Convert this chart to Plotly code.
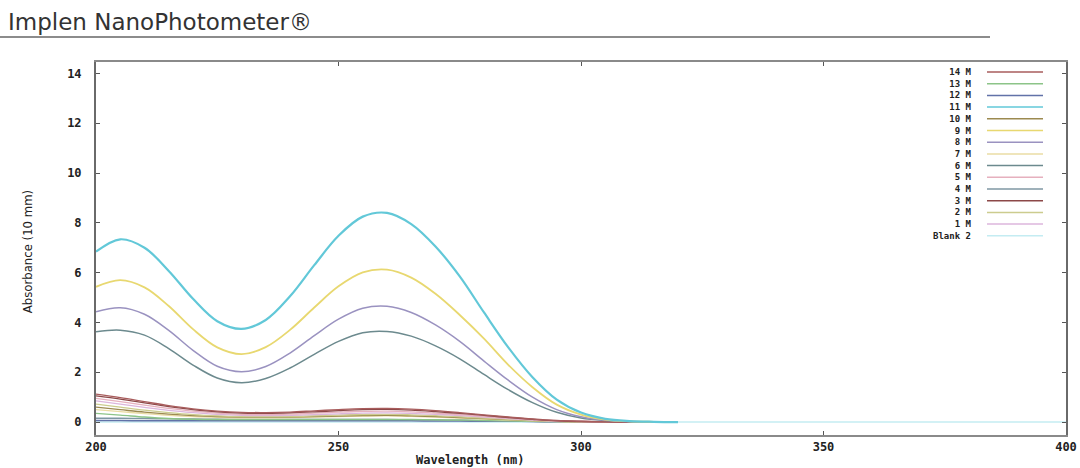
import plotly.graph_objects as go

# ---------------- data ----------------
wavelength = [200, 205, 210, 215, 220, 225, 230, 235, 240, 245, 250, 255, 260,
              265, 270, 275, 280, 285, 290, 295, 300, 305, 310, 315, 320]
wavelength_blank = [200, 250, 300, 350, 400]

s14 = [1.12, 0.98, 0.82, 0.66, 0.53, 0.44, 0.39, 0.38, 0.40, 0.45, 0.50, 0.54, 0.55,
       0.52, 0.46, 0.38, 0.29, 0.20, 0.12, 0.06, 0.03, 0.01, 0.0, 0.0, 0.0]
s13 = [0.35, 0.28, 0.20, 0.14, 0.11, 0.10, 0.10, 0.10, 0.10, 0.10, 0.10, 0.10, 0.10,
       0.10, 0.09, 0.08, 0.07, 0.05, 0.03, 0.02, 0.01, 0.0, 0.0, 0.0, 0.0]
s12 = [0.06, 0.06, 0.05, 0.05, 0.05, 0.05, 0.05, 0.05, 0.05, 0.05, 0.05, 0.05, 0.05,
       0.05, 0.04, 0.04, 0.03, 0.03, 0.02, 0.01, 0.01, 0.0, 0.0, 0.0, 0.0]
s11 = [6.84, 7.34, 7.00, 6.07, 4.95, 4.05, 3.74, 4.10, 5.05, 6.30, 7.48, 8.25, 8.40,
       7.95, 7.05, 5.85, 4.40, 3.00, 1.80, 0.90, 0.38, 0.13, 0.04, 0.01, 0.0]
s10 = [0.60, 0.50, 0.40, 0.32, 0.26, 0.22, 0.20, 0.19, 0.20, 0.22, 0.24, 0.26, 0.27,
       0.25, 0.22, 0.18, 0.14, 0.10, 0.06, 0.03, 0.01, 0.0, 0.0, 0.0, 0.0]
s9 = [5.43, 5.70, 5.41, 4.66, 3.73, 3.00, 2.73, 3.01, 3.70, 4.60, 5.45, 6.01, 6.12,
      5.80, 5.15, 4.30, 3.35, 2.30, 1.40, 0.70, 0.30, 0.10, 0.03, 0.01, 0.0]
s8 = [4.43, 4.59, 4.33, 3.68, 2.88, 2.24, 2.02, 2.23, 2.77, 3.47, 4.13, 4.57, 4.65,
      4.40, 3.90, 3.24, 2.45, 1.68, 1.00, 0.50, 0.21, 0.07, 0.02, 0.01, 0.0]
s7 = [0.50, 0.42, 0.34, 0.27, 0.22, 0.19, 0.17, 0.17, 0.18, 0.20, 0.22, 0.24, 0.25,
      0.23, 0.20, 0.16, 0.12, 0.08, 0.05, 0.02, 0.01, 0.0, 0.0, 0.0, 0.0]
s6 = [3.63, 3.69, 3.49, 2.95, 2.29, 1.77, 1.58, 1.75, 2.17, 2.72, 3.24, 3.59, 3.64,
      3.45, 3.06, 2.54, 1.91, 1.30, 0.78, 0.39, 0.16, 0.06, 0.02, 0.01, 0.0]
s5 = [0.95, 0.82, 0.68, 0.55, 0.44, 0.36, 0.31, 0.30, 0.32, 0.36, 0.40, 0.43, 0.44,
      0.41, 0.36, 0.30, 0.23, 0.16, 0.09, 0.05, 0.02, 0.01, 0.0, 0.0, 0.0]
s4 = [0.15, 0.15, 0.14, 0.13, 0.12, 0.11, 0.10, 0.10, 0.10, 0.10, 0.10, 0.10, 0.10,
      0.09, 0.08, 0.07, 0.05, 0.04, 0.03, 0.02, 0.01, 0.0, 0.0, 0.0, 0.0]
s3 = [1.05, 0.92, 0.77, 0.62, 0.50, 0.41, 0.36, 0.35, 0.37, 0.41, 0.46, 0.50, 0.51,
      0.48, 0.42, 0.35, 0.27, 0.18, 0.11, 0.05, 0.02, 0.01, 0.0, 0.0, 0.0]
s2 = [0.72, 0.60, 0.48, 0.38, 0.30, 0.25, 0.22, 0.21, 0.22, 0.25, 0.28, 0.30, 0.31,
      0.29, 0.26, 0.21, 0.16, 0.11, 0.07, 0.03, 0.01, 0.0, 0.0, 0.0, 0.0]
s1 = [0.85, 0.72, 0.59, 0.47, 0.38, 0.31, 0.27, 0.26, 0.27, 0.30, 0.33, 0.36, 0.37,
      0.35, 0.31, 0.26, 0.20, 0.14, 0.08, 0.04, 0.02, 0.01, 0.0, 0.0, 0.0]
blank2 = [0.0, 0.0, 0.0, 0.0, 0.0]

series_names = ["14 M", "13 M", "12 M", "11 M", "10 M", "9 M", "8 M", "7 M",
                "6 M", "5 M", "4 M", "3 M", "2 M", "1 M", "Blank 2"]

x_ticks = [200, 250, 300, 350, 400]
y_ticks = [0, 2, 4, 6, 8, 10, 12, 14]

# ---------------- styling ----------------
colors = {
    "14 M": "#a85c5c", "13 M": "#8cc488", "12 M": "#6272a8", "11 M": "#62c8d8",
    "10 M": "#9c8a50", "9 M": "#e8d870", "8 M": "#9a92c0", "7 M": "#eadca4",
    "6 M": "#6c8a8e", "5 M": "#e6b0be", "4 M": "#7f97a3", "3 M": "#8c4848",
    "2 M": "#cccc8e", "1 M": "#dcb6dc", "Blank 2": "#c4ecf2",
}
widths = {"11 M": 2.2, "9 M": 1.8, "8 M": 1.5, "6 M": 1.5}

values = {
    "14 M": s14, "13 M": s13, "12 M": s12, "11 M": s11, "10 M": s10, "9 M": s9,
    "8 M": s8, "7 M": s7, "6 M": s6, "5 M": s5, "4 M": s4, "3 M": s3, "2 M": s2,
    "1 M": s1,
}

fig = go.Figure()

fig.add_trace(go.Scatter(x=wavelength_blank, y=blank2, mode="lines", name="Blank 2",
                         line=dict(color=colors["Blank 2"], width=1.5),
                         showlegend=False))
draw_order = ["12 M", "4 M", "13 M", "7 M", "10 M", "2 M", "1 M", "5 M", "3 M", "14 M",
              "6 M", "8 M", "9 M", "11 M"]
for name in draw_order:
    fig.add_trace(go.Scatter(x=wavelength, y=values[name], mode="lines", name=name,
                             line=dict(color=colors[name], width=widths.get(name, 1.4),
                                       shape="spline", smoothing=1.0),
                             showlegend=False))

mono = "DejaVu Sans Mono"
PW, PH = 970, 373   # plot-area size in pixels (used to place layout decorations)
fig.update_layout(
    width=1080, height=468,
    paper_bgcolor="white", plot_bgcolor="white",
    margin=dict(l=96, r=14, t=62, b=33, autoexpand=False),
    showlegend=False,
    font=dict(family=mono, color="#222"),
)
fig.update_xaxes(range=[200, 400], tickvals=x_ticks, ticktext=[str(v) for v in x_ticks],
                 automargin=False,
                 showgrid=False, zeroline=False, showline=True, linecolor="#8a8a8a",
                 linewidth=2, mirror="ticks", ticks="inside", ticklen=4,
                 tickcolor="#555", tickfont=dict(family=mono, size=12, weight="bold",
                                                 color="#222"))
fig.update_yaxes(range=[-0.52, 14.46], tickvals=y_ticks, ticktext=[str(v) for v in y_ticks],
                 automargin=False,
                 showgrid=False, zeroline=False, showline=True, linecolor="#6a6a6a",
                 linewidth=2, mirror="ticks", ticks="inside", ticklen=4,
                 tickcolor="#555", ticklabelstandoff=10,
                 tickfont=dict(family=mono, size=12, weight="bold", color="#222"))

# Header title and rule
fig.add_annotation(text="Implen NanoPhotometer®", xref="paper", yref="paper",
                   x=-90 / PW, y=1 + 40 / PH, xanchor="left", yanchor="middle",
                   showarrow=False, font=dict(family="DejaVu Sans", size=23, color="#333"))
fig.add_shape(type="line", xref="paper", yref="paper", x0=-96 / PW, x1=894 / PW,
              y0=1 + 25 / PH, y1=1 + 25 / PH, line=dict(color="#8c8c8c", width=2))

# Axis titles
fig.add_annotation(text="Wavelength (nm)", xref="paper", yref="paper",
                   x=374 / PW, y=-25 / PH, xanchor="center", yanchor="middle",
                   showarrow=False, borderpad=0,
                   font=dict(family=mono, size=12, weight="bold", color="#222"))
fig.add_annotation(text="Absorbance (10 mm)", xref="paper", yref="paper",
                   x=-69 / PW, y=0.49, xanchor="center", yanchor="middle", textangle=-90,
                   showarrow=False,
                   font=dict(family="DejaVu Sans Condensed, Liberation Sans Narrow, Liberation Sans",
                             size=13, color="#222"))

# Custom legend: labels as one right-aligned text block, line samples to the right
leg_font = 9
row_px = 1.3 * leg_font
first_row_px = 10          # centre of first row below the plot top
fig.add_annotation(text="<br>".join(series_names), xref="paper", yref="paper",
                   x=877 / PW, y=1 - (first_row_px - row_px / 2) / PH,
                   xanchor="right", yanchor="top", align="right", showarrow=False,
                   borderpad=0,
                   font=dict(family=mono, size=leg_font, weight="bold", color="#222"))
for i, name in enumerate(series_names):
    yy = 1 - (first_row_px + i * row_px) / PH
    fig.add_shape(type="line", xref="paper", yref="paper", x0=891 / PW, x1=947 / PW,
                  y0=yy, y1=yy, line=dict(color=colors[name], width=1.5))

fig.write_html("out.html")
